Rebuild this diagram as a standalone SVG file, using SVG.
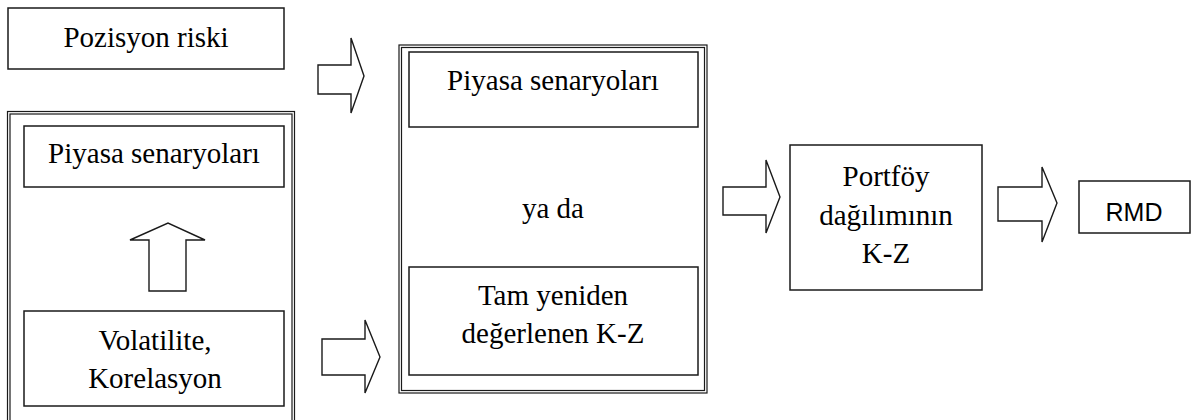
<svg xmlns="http://www.w3.org/2000/svg" width="1195" height="420" viewBox="0 0 1195 420">
  <style>
    .box { fill: #ffffff; stroke: #1a1a1a; stroke-width: 1.5; }
    .thin { fill: none; stroke: #1a1a1a; stroke-width: 1.2; }
    .arrow { fill: #ffffff; stroke: #1a1a1a; stroke-width: 1.4; stroke-linejoin: miter; }
    text { fill: #000000; text-anchor: middle; }
  </style>

  <rect width="1195" height="420" fill="#ffffff"/>

  <g font-family="Liberation Serif" font-size="29">
    <!-- Position risk input -->
    <g id="pozisyon-riski">
      <rect class="box" x="8" y="8" width="276" height="61"/>
      <text x="146" y="47">Pozisyon riski</text>
    </g>

    <!-- Left container: market scenarios built from volatility / correlation -->
    <g id="sol-cerceve">
      <rect class="thin" x="7.5" y="111.5" width="287" height="320"/>
      <rect class="thin" x="10" y="114" width="282" height="320"/>
    </g>
    <g id="piyasa-senaryolari-sol">
      <rect class="box" x="24" y="126" width="260" height="61"/>
      <text x="154" y="163">Piyasa senaryoları</text>
    </g>
    <g id="volatilite-korelasyon">
      <rect class="box" x="24" y="311" width="260" height="95"/>
      <text x="155" y="350">Volatilite,</text>
      <text x="155" y="388">Korelasyon</text>
    </g>

    <!-- Middle container: scenarios or full revaluation -->
    <g id="orta-cerceve">
      <rect class="thin" x="399" y="45" width="308" height="348"/>
      <rect class="thin" x="401.5" y="47.5" width="303" height="343"/>
      <text x="553" y="218">ya da</text>
    </g>
    <g id="piyasa-senaryolari-orta">
      <rect class="box" x="409" y="52" width="289" height="75"/>
      <text x="553" y="90">Piyasa senaryoları</text>
    </g>
    <g id="tam-yeniden-degerlenen">
      <rect class="box" x="409" y="267" width="289" height="108"/>
      <text x="553" y="305">Tam yeniden</text>
      <text x="553" y="343">değerlenen K-Z</text>
    </g>

    <!-- Portfolio distribution -->
    <g id="portfoy-dagilimi">
      <rect class="box" x="790" y="145" width="192" height="145"/>
      <text x="886" y="186">Portföy</text>
      <text x="886" y="225">dağılımının</text>
      <text x="886" y="263">K-Z</text>
    </g>
  </g>

  <!-- Result -->
  <g id="rmd" font-family="Liberation Sans" font-size="25">
    <rect class="box" x="1079" y="181" width="111" height="52"/>
    <text x="1134" y="221">RMD</text>
  </g>

  <!-- Block arrows -->
  <g id="baglantilar">
    <polygon class="arrow" points="318,65 351,65 351,38 364,76 351,113 351,94 318,94"/>
    <polygon class="arrow" points="149,291 149,240 130,240 168,223 205,240 186,240 186,291"/>
    <polygon class="arrow" points="322,339 365,339 365,320 380,357 365,393 365,375 322,375"/>
    <polygon class="arrow" points="723,187 766,187 766,160 780,197 766,233 766,215 723,215"/>
    <polygon class="arrow" points="998,187 1042,187 1042,167 1057,203 1042,242 1042,221 998,221"/>
  </g>
</svg>
